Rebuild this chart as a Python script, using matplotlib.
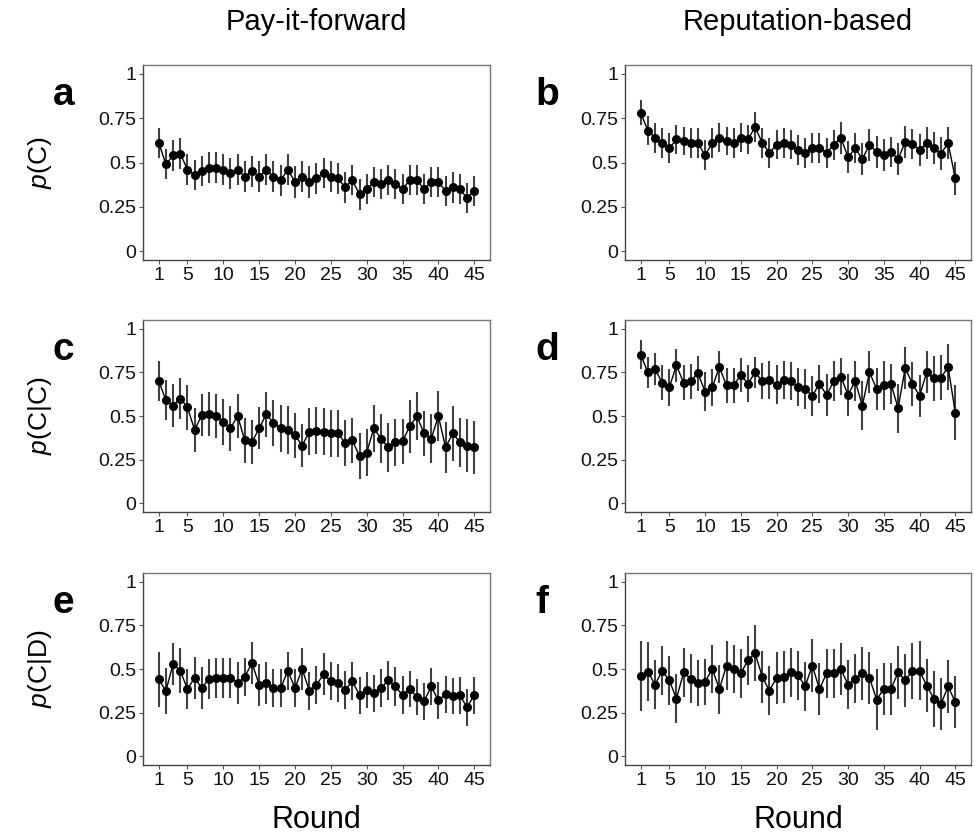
import matplotlib
matplotlib.use("Agg")
import matplotlib.pyplot as plt
import numpy as np

plt.rcParams['font.family'] = ['Liberation Sans', 'DejaVu Sans']
plt.rcParams['mathtext.fontset'] = 'custom'
plt.rcParams['mathtext.it'] = 'Liberation Sans:italic'
plt.rcParams['mathtext.rm'] = 'Liberation Sans'

rounds = list(range(1, 46))
col_titles = ["Pay-it-forward", "Reputation-based"]
row_labels = [r"$\it{p}$(C)", r"$\it{p}$(C|C)", r"$\it{p}$(C|D)"]
panel_letters = ["a", "b", "c", "d", "e", "f"]
y_ticks = [0, 0.25, 0.5, 0.75, 1]
y_ticklabels = ["0", "0.25", "0.5", "0.75", "1"]
x_ticks = [1, 5, 10, 15, 20, 25, 30, 35, 40, 45]

a_mean = [0.61, 0.49, 0.54, 0.55, 0.46, 0.43, 0.45, 0.47, 0.47, 0.46,
          0.44, 0.46, 0.42, 0.45, 0.42, 0.46, 0.42, 0.40, 0.46, 0.39,
          0.42, 0.39, 0.41, 0.44, 0.42, 0.41, 0.36, 0.40, 0.32, 0.35,
          0.39, 0.38, 0.40, 0.38, 0.35, 0.40, 0.40, 0.35, 0.39, 0.39,
          0.34, 0.36, 0.35, 0.30, 0.34]
a_err = [0.083, 0.085, 0.086, 0.086, 0.086, 0.086, 0.085, 0.087, 0.087, 0.087,
         0.087, 0.087, 0.087, 0.087, 0.087, 0.087, 0.087, 0.087, 0.087, 0.088,
         0.088, 0.088, 0.088, 0.086, 0.086, 0.086, 0.086, 0.086, 0.086, 0.086,
         0.086, 0.086, 0.086, 0.086, 0.086, 0.086, 0.086, 0.086, 0.086, 0.086,
         0.086, 0.086, 0.086, 0.086, 0.086]

b_mean = [0.78, 0.68, 0.64, 0.61, 0.58, 0.63, 0.62, 0.61, 0.61, 0.54,
          0.61, 0.64, 0.62, 0.61, 0.64, 0.63, 0.70, 0.61, 0.555, 0.60,
          0.61, 0.60, 0.57, 0.555, 0.58, 0.58, 0.555, 0.60, 0.64, 0.53,
          0.58, 0.52, 0.60, 0.56, 0.54, 0.56, 0.52, 0.615, 0.605, 0.57,
          0.61, 0.58, 0.55, 0.61, 0.41]
b_err = [0.071, 0.080, 0.085, 0.085, 0.085, 0.080, 0.080, 0.082, 0.082, 0.085,
         0.082, 0.080, 0.080, 0.082, 0.080, 0.080, 0.085, 0.082, 0.085, 0.082,
         0.082, 0.082, 0.085, 0.085, 0.085, 0.085, 0.085, 0.085, 0.090, 0.090,
         0.085, 0.090, 0.090, 0.090, 0.090, 0.085, 0.090, 0.090, 0.085, 0.090,
         0.090, 0.090, 0.095, 0.090, 0.095]

c_mean = [0.70, 0.59, 0.56, 0.60, 0.55, 0.42, 0.505, 0.51, 0.50, 0.465,
          0.43, 0.50, 0.36, 0.35, 0.43, 0.51, 0.46, 0.43, 0.42, 0.39,
          0.33, 0.41, 0.415, 0.41, 0.40, 0.40, 0.345, 0.36, 0.27, 0.29,
          0.43, 0.37, 0.32, 0.35, 0.355, 0.44, 0.50, 0.40, 0.37, 0.50,
          0.32, 0.40, 0.35, 0.33, 0.32]
c_err = [0.115, 0.115, 0.125, 0.115, 0.13, 0.125, 0.12, 0.125, 0.125, 0.13,
         0.13, 0.125, 0.13, 0.125, 0.12, 0.13, 0.13, 0.135, 0.14, 0.13,
         0.125, 0.135, 0.135, 0.135, 0.135, 0.135, 0.13, 0.13, 0.13, 0.135,
         0.135, 0.14, 0.14, 0.135, 0.13, 0.15, 0.14, 0.13, 0.14, 0.145,
         0.145, 0.16, 0.14, 0.15, 0.15]

d_mean = [0.85, 0.75, 0.77, 0.69, 0.665, 0.79, 0.69, 0.70, 0.745, 0.64,
          0.665, 0.78, 0.675, 0.675, 0.735, 0.685, 0.75, 0.70, 0.705, 0.68,
          0.705, 0.70, 0.665, 0.655, 0.615, 0.685, 0.62, 0.70, 0.725, 0.62,
          0.70, 0.56, 0.75, 0.655, 0.675, 0.685, 0.545, 0.775, 0.685, 0.615,
          0.75, 0.715, 0.72, 0.78, 0.52]
d_err = [0.083, 0.09, 0.09, 0.10, 0.105, 0.095, 0.10, 0.10, 0.10, 0.11,
         0.105, 0.09, 0.10, 0.10, 0.095, 0.105, 0.09, 0.105, 0.11, 0.11,
         0.11, 0.11, 0.11, 0.115, 0.115, 0.11, 0.12, 0.115, 0.105, 0.12,
         0.115, 0.14, 0.12, 0.12, 0.14, 0.115, 0.14, 0.12, 0.125, 0.12,
         0.12, 0.13, 0.13, 0.13, 0.16]

e_mean = [0.44, 0.375, 0.53, 0.49, 0.385, 0.45, 0.39, 0.445, 0.45, 0.45,
          0.45, 0.42, 0.455, 0.535, 0.41, 0.42, 0.39, 0.39, 0.49, 0.39,
          0.50, 0.375, 0.41, 0.47, 0.43, 0.42, 0.38, 0.43, 0.35, 0.38,
          0.36, 0.39, 0.435, 0.40, 0.35, 0.385, 0.34, 0.315, 0.40, 0.32,
          0.355, 0.345, 0.35, 0.28, 0.35]
e_err = [0.16, 0.13, 0.12, 0.13, 0.115, 0.12, 0.12, 0.115, 0.115, 0.115,
         0.115, 0.12, 0.11, 0.12, 0.12, 0.12, 0.11, 0.11, 0.11, 0.11,
         0.12, 0.11, 0.11, 0.12, 0.11, 0.11, 0.11, 0.11, 0.105, 0.105,
         0.105, 0.11, 0.11, 0.11, 0.11, 0.105, 0.105, 0.105, 0.105, 0.105,
         0.105, 0.105, 0.105, 0.105, 0.105]

f_mean = [0.46, 0.485, 0.41, 0.49, 0.435, 0.33, 0.48, 0.445, 0.42, 0.425,
          0.50, 0.385, 0.52, 0.50, 0.475, 0.55, 0.59, 0.455, 0.375, 0.45,
          0.455, 0.48, 0.465, 0.40, 0.52, 0.385, 0.475, 0.475, 0.50, 0.41,
          0.445, 0.475, 0.45, 0.325, 0.385, 0.385, 0.48, 0.435, 0.49, 0.49,
          0.405, 0.33, 0.30, 0.40, 0.31]
f_err = [0.20, 0.17, 0.14, 0.14, 0.14, 0.14, 0.14, 0.14, 0.13, 0.13,
         0.14, 0.14, 0.14, 0.14, 0.14, 0.14, 0.16, 0.15, 0.14, 0.15,
         0.15, 0.14, 0.14, 0.14, 0.15, 0.15, 0.14, 0.14, 0.15, 0.14,
         0.14, 0.15, 0.15, 0.175, 0.15, 0.15, 0.15, 0.15, 0.16, 0.17,
         0.15, 0.16, 0.15, 0.15, 0.15]

means = [a_mean, b_mean, c_mean, d_mean, e_mean, f_mean]
errs = [a_err, b_err, c_err, d_err, e_err, f_err]

W, H = 974, 840
fig = plt.figure(figsize=(W / 100, H / 100), dpi=100)
fig.patch.set_facecolor("white")

col_x = [(143, 490), (625, 971)]
row_y = [(65, 260), (320, 512), (573, 765)]

for idx in range(6):
    r, c = idx // 2, idx % 2
    x0, x1 = col_x[c]
    yt, yb = row_y[r]
    ax = fig.add_axes([x0 / W, 1 - yb / H, (x1 - x0) / W, (yb - yt) / H])
    m = means[idx]
    e = errs[idx]
    ax.errorbar(rounds, m, yerr=e, fmt='none', ecolor='#404040', elinewidth=1.5,
                capsize=0, zorder=2)
    ax.plot(rounds, m, color='black', lw=1.0, zorder=3)
    ax.plot(rounds, m, 'o', color='black', ms=5.5, zorder=4)
    ax.set_xlim(-1.2, 47.2)
    ax.set_ylim(-0.05, 1.05)
    ax.set_yticks(y_ticks)
    ax.set_yticklabels(y_ticklabels)
    ax.set_xticks(x_ticks)
    ax.tick_params(axis='both', labelsize=14, length=3, width=0.8,
                   color='#555555', pad=2, labelcolor='#111111')
    for s in ax.spines.values():
        s.set_color('#777777')
        s.set_linewidth(1.0)
    ax.spines['left'].set_color('#444444')
    ax.spines['bottom'].set_color('#444444')
    fig.text((x0 - 90) / W, 1 - (yt + 30) / H, panel_letters[idx],
             fontsize=28, fontweight='bold', ha='left', va='center')
    if c == 0:
        fig.text(40 / W, 1 - ((yt + yb) / 2) / H, row_labels[r], rotation=90,
                 fontsize=19, ha='center', va='center')

for c in range(2):
    x0, x1 = col_x[c]
    fig.text(((x0 + x1) / 2) / W, 1 - 22 / H, col_titles[c], fontsize=21,
             ha='center', va='center')
    fig.text(((x0 + x1) / 2) / W, 1 - 820 / H, "Round", fontsize=22,
             ha='center', va='center')

fig.savefig("out.png", dpi=100, facecolor="white")
